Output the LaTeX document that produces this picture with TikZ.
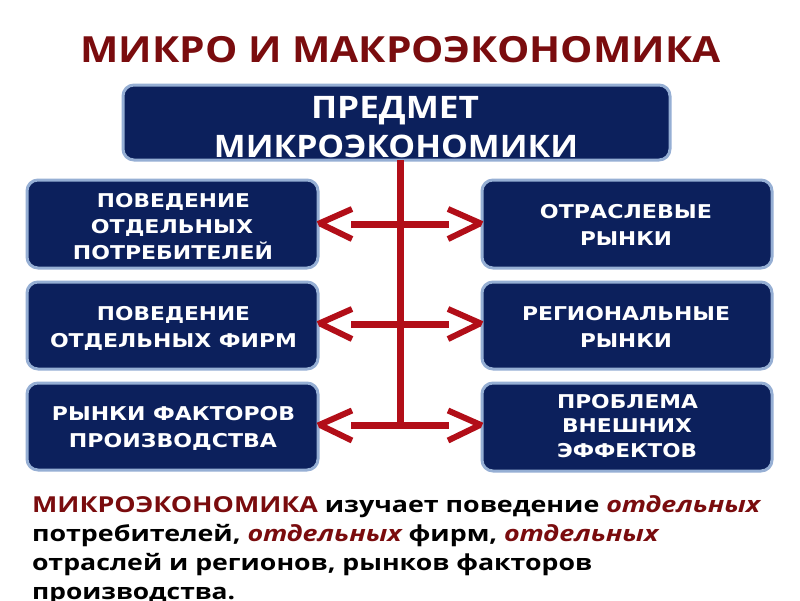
\documentclass[tikz,border=0pt]{standalone}
\usepackage{fontspec}
\usepackage{graphicx}
\newfontfamily\osans{Open Sans}
\newfontfamily\dvsans{DejaVu Sans}
\definecolor{titlered}{RGB}{122,12,14}
\definecolor{navy}{RGB}{12,32,92}
\definecolor{rimblue}{RGB}{150,175,212}
\definecolor{linered}{RGB}{178,14,24}
\newcommand\fitw[2]{\resizebox{#1pt}{\height}{#2}}
\tikzset{
  bluebox/.style={draw=rimblue, fill=navy, line width=3pt, rounded corners=11pt,
    minimum width=#1, inner sep=0pt, outer sep=0pt},
  boxtxt/.style={anchor=base, inner sep=0pt, text=white, font=\dvsans\bfseries\fontsize{19}{19}\selectfont},
  toptxt/.style={anchor=base, inner sep=0pt, text=white, font=\osans\bfseries\fontsize{31}{31}\selectfont},
  bodytxt/.style={anchor=base west, inner sep=0pt, text=black, font=\osans\bfseries\fontsize{22}{22}\selectfont},
  redbar/.style={draw=linered, line width=7pt},
  chev/.style={draw=linered, line width=6pt, line join=miter}
}
\newcommand\rt[1]{\textcolor{titlered}{#1}}
\newcommand\ri[1]{\textcolor{titlered}{\itshape #1}}
\begin{document}
\begin{tikzpicture}[x=1pt,y=-1pt]
\useasboundingbox (0,0) rectangle (800,600);
\clip (0,0) rectangle (800,600);
\fill[white] (0,0) rectangle (800,600);

% title
\node[anchor=base, inner sep=0pt, text=titlered, font=\osans\bfseries\fontsize{36}{36}\selectfont]
  (title) at (400.5,62) {\fitw{640}{МИКРО И МАКРОЭКОНОМИКА}};

% top box
\node[bluebox=547pt, minimum height=75pt] (top) at (396.5,122.5) {};
\node[toptxt] (top1) at (395,118) {\fitw{168}{ПРЕДМЕТ}};
\node[toptxt] (top2) at (396,157) {\fitw{364}{МИКРОЭКОНОМИКИ}};

% left boxes
\node[bluebox=291pt, minimum height=88pt] (L1) at (172.5,224) {};
\node[bluebox=291pt, minimum height=87pt] (L2) at (172.5,325.5) {};
\node[bluebox=291pt, minimum height=87pt] (L3) at (172.5,426.5) {};
% right boxes
\node[bluebox=290pt, minimum height=88pt] (R1) at (627,224) {};
\node[bluebox=290pt, minimum height=87pt] (R2) at (627,325.5) {};
\node[bluebox=290pt, minimum height=88pt] (R3) at (627,427) {};

% box texts
\node[boxtxt] (l1a) at (173.5,207) {\fitw{153}{ПОВЕДЕНИЕ}};
\node[boxtxt] (l1b) at (172,233) {\fitw{162}{ОТДЕЛЬНЫХ}};
\node[boxtxt] (l1c) at (173,259) {\fitw{200}{ПОТРЕБИТЕЛЕЙ}};
\node[boxtxt] (l2a) at (173.5,320) {\fitw{153}{ПОВЕДЕНИЕ}};
\node[boxtxt] (l2b) at (173.5,347) {\fitw{247}{ОТДЕЛЬНЫХ ФИРМ}};
\node[boxtxt] (l3a) at (173.5,420) {\fitw{243}{РЫНКИ ФАКТОРОВ}};
\node[boxtxt] (l3b) at (173,447) {\fitw{208}{ПРОИЗВОДСТВА}};
\node[boxtxt] (r1a) at (626,218) {\fitw{172}{ОТРАСЛЕВЫЕ}};
\node[boxtxt] (r1b) at (626,245) {\fitw{92}{РЫНКИ}};
\node[boxtxt] (r2a) at (626,320) {\fitw{208}{РЕГИОНАЛЬНЫЕ}};
\node[boxtxt] (r2b) at (626,347) {\fitw{92}{РЫНКИ}};
\node[boxtxt] (r3a) at (627.5,408) {\fitw{141}{ПРОБЛЕМА}};
\node[boxtxt] (r3b) at (627,432) {\fitw{130}{ВНЕШНИХ}};
\node[boxtxt] (r3c) at (627,457) {\fitw{140}{ЭФФЕКТОВ}};

% connectors
\coordinate (s1) at (400.5,224);
\coordinate (s2) at (400.5,324);
\coordinate (s3) at (400.5,425.5);
\draw[redbar] (top.south -| s1) -- ([yshift=3.5pt]s3);
\foreach \r/\y in {1/224,2/324,3/425.5}{
  \coordinate (la\r) at (351,\y);
  \coordinate (ra\r) at (449,\y);
  \draw[redbar] (la\r) -- (ra\r);
  \draw[chev] (352,\y-15) -- (L\r.east |- la\r) ++(3,0) -- (352,\y+15);
  \draw[chev] (448,\y-15) -- (R\r.west |- ra\r) ++(-3,0) -- (448,\y+15);
}

% bottom text
\node[bodytxt] (b1) at (32,512) {\fitw{728}{\rt{МИКРОЭКОНОМИКА} изучает поведение \ri{отдельных}}};
\node[bodytxt] (b2) at (32,541) {\fitw{626}{потребителей, \ri{отдельных} фирм, \ri{отдельных}}};
\node[bodytxt] (b3) at (32,570) {\fitw{560}{отраслей и регионов, рынков факторов}};
\node[bodytxt] (b4) at (32,599) {\fitw{203}{производства.}};
\end{tikzpicture}
\end{document}
